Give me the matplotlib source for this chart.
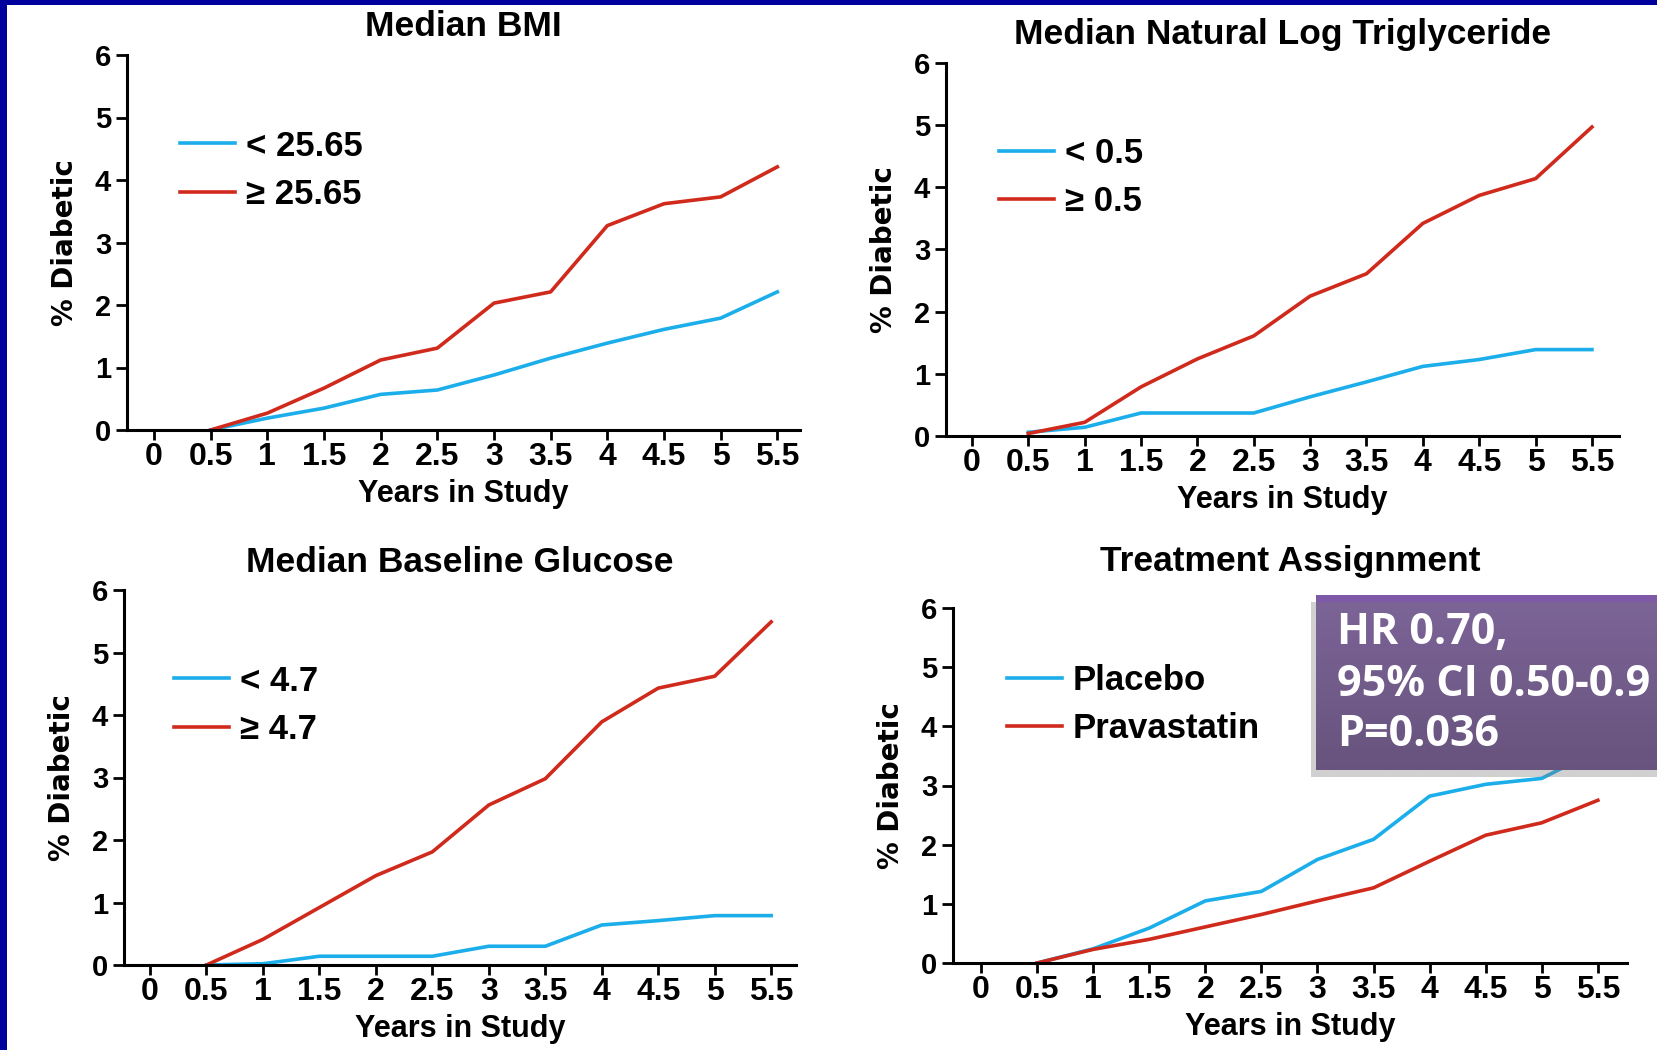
import numpy as np
import matplotlib.pyplot as plt
from matplotlib.patches import Rectangle

plt.rcParams.update({
    "font.family": ["Liberation Sans", "DejaVu Sans"],
    "axes.linewidth": 2.2,
})
CL = {
    'BLU': '#1BAEEA',  # low group / placebo
    'RED': '#D02A1C',  # high group / pravastatin
    'NAVY': '#00009C',
}


""" Data """
years = [0.5, 1, 1.5, 2, 2.5, 3, 3.5, 4, 4.5, 5, 5.5]
xtick_pos = [0, 0.5, 1, 1.5, 2, 2.5, 3, 3.5, 4, 4.5, 5, 5.5]
xtick_lab = ['0', '0.5', '1', '1.5', '2', '2.5', '3', '3.5', '4', '4.5', '5', '5.5']

titles = ['Median BMI', 'Median Natural Log Triglyceride',
          'Median Baseline Glucose', 'Treatment Assignment']
labels_low = ['< 25.65', '< 0.5', '< 4.7', 'Placebo']
labels_high = ['\u2265 25.65', '\u2265 0.5', '\u2265 4.7', 'Pravastatin']

bmi_low = [0.0, 0.19, 0.35, 0.57, 0.64, 0.88, 1.15, 1.39, 1.61, 1.79, 2.21]
bmi_high = [0.0, 0.27, 0.67, 1.12, 1.31, 2.03, 2.21, 3.27, 3.62, 3.73, 4.21]
trig_low = [0.06, 0.14, 0.37, 0.37, 0.37, 0.63, 0.87, 1.12, 1.23, 1.39, 1.39]
trig_high = [0.04, 0.22, 0.79, 1.24, 1.61, 2.25, 2.61, 3.42, 3.87, 4.14, 4.97]
gluc_low = [0.0, 0.02, 0.14, 0.14, 0.14, 0.30, 0.30, 0.64, 0.71, 0.79, 0.79]
gluc_high = [0.0, 0.41, 0.92, 1.43, 1.81, 2.56, 2.98, 3.89, 4.43, 4.62, 5.49]
placebo = [0.0, 0.24, 0.59, 1.05, 1.21, 1.75, 2.09, 2.82, 3.02, 3.12, 3.60]
pravastatin = [0.0, 0.23, 0.40, 0.61, 0.82, 1.05, 1.27, 1.72, 2.16, 2.37, 2.75]

series_low = [bmi_low, trig_low, gluc_low, placebo]
series_high = [bmi_high, trig_high, gluc_high, pravastatin]

stats_lines = ['HR 0.70,', '95% CI 0.50-0.9', 'P=0.036']


""" Layout (pixels) """
W, H = 1657, 1050
# left, top, right, bottom of each plotting area
boxes = [(127, 55, 800, 430), (946, 63, 1619, 436),
         (124, 590, 796, 965), (953, 608, 1627, 963)]
xlims = [(-0.238, 5.70), (-0.23, 5.74), (-0.23, 5.72), (-0.25, 5.76)]
title_off = [28, 28, 27, 47]
leg_anchor = [(0.079, 0.801), (0.079, 0.802), (0.074, 0.801), (0.080, 0.843)]


def px_rect(l, t, r, b):
    return [l / W, 1 - b / H, (r - l) / W, (b - t) / H]


""" Plot """
fig = plt.figure(figsize=(W / 100, H / 100), dpi=100)
fig.patch.set_facecolor('white')

for i in range(4):
    ax = fig.add_axes(px_rect(*boxes[i]))
    ax.plot(years, series_low[i], c=CL['BLU'], lw=2.6, label=labels_low[i], clip_on=False)
    ax.plot(years, series_high[i], c=CL['RED'], lw=2.6, label=labels_high[i], clip_on=False)
    ax.set_xlim(xlims[i])
    ax.set_ylim(0, 6)
    ax.spines[['top', 'right']].set_visible(False)
    ax.set_xticks(xtick_pos, xtick_lab)
    ax.set_yticks(range(7))
    ax.tick_params(axis='x', length=7.5, width=2, pad=1, labelsize=23)
    ax.tick_params(axis='y', length=8, width=2, pad=3.5, labelsize=21)
    for lab in ax.get_xticklabels() + ax.get_yticklabels():
        lab.set_fontweight('bold')
    ax.annotate(titles[i], xy=(0.5, 1), xycoords='axes fraction',
                xytext=(0, title_off[i]), textcoords='offset pixels',
                ha='center', va='center', fontsize=25.5, fontweight='bold')
    ax.annotate('Years in Study', xy=(0.5, 0), xycoords='axes fraction',
                xytext=(0, -64), textcoords='offset pixels',
                ha='center', va='center', fontsize=22, fontweight='bold')
    ax.annotate('% Diabetic', xy=(0, 0.5), xycoords='axes fraction',
                xytext=(-62, 0), textcoords='offset pixels', rotation=90,
                ha='center', va='center', fontsize=20, fontweight='bold',
                family='DejaVu Sans')
    ax.legend(loc='upper left', bbox_to_anchor=leg_anchor[i], frameon=False,
              handlelength=1.58, handletextpad=0.32,
              labelspacing=0.45, borderpad=0, borderaxespad=0,
              prop={'weight': 'bold', 'size': 25})

# hazard ratio box on the treatment panel
bx = fig.add_axes(px_rect(1316, 595, 1720, 770))
fig.add_artist(Rectangle((1311 / W, 1 - 777 / H), 404 / W, 175 / H,
                         transform=fig.transFigure, color='#7a7a7a',
                         alpha=0.35, lw=0, zorder=0.5))
grad = np.linspace(0, 1, 100)[:, None]
top_c = np.array([0x7E, 0x5A, 0xA8]) / 255
bot_c = np.array([0x5E, 0x3F, 0x80]) / 255
img = top_c[None, None, :] * (1 - grad[..., None]) + bot_c[None, None, :] * grad[..., None]
bx.imshow(img, aspect='auto', extent=(0, 1, 0, 1))
bx.set_xlim(0, 1)
bx.set_ylim(0, 1)
bx.axis('off')
for k, line in enumerate(stats_lines):
    fig.text(1337 / W, 1 - [632, 685, 735][k] / H, line, color='white',
             fontsize=31, fontweight='bold', family=['Open Sans', 'DejaVu Sans'],
             ha='left', va='center')

# slide frame
fig.add_artist(Rectangle((0, 1 - 5 / H), 1, 5 / H, transform=fig.transFigure,
                         color=CL['NAVY'], lw=0))
fig.add_artist(Rectangle((0, 0), 7 / W, 1, transform=fig.transFigure,
                         color=CL['NAVY'], lw=0))

plt.savefig('out.png', dpi=100)
